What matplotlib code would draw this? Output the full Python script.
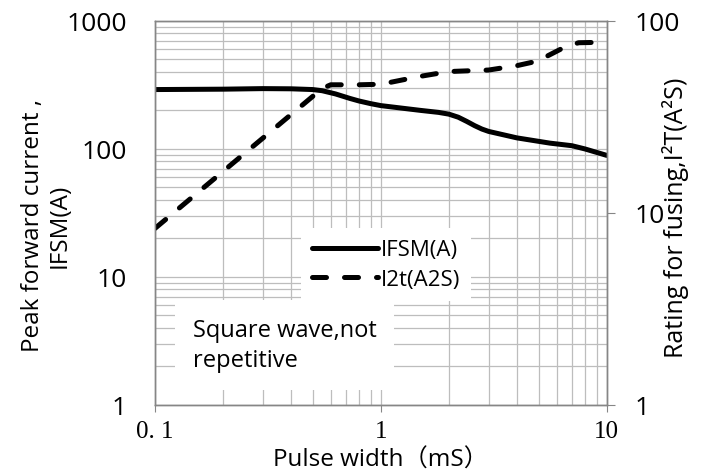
import matplotlib
matplotlib.use("Agg")
import matplotlib.pyplot as plt
from matplotlib.ticker import LogLocator, NullFormatter

# data
pulse_ifsm = [0.1, 0.2, 0.3, 0.4, 0.5, 0.55, 0.63, 0.73, 0.8, 0.9, 1.0, 1.5,
              1.8, 2.0, 2.2, 2.4, 2.6, 2.8, 3.0, 4.0, 5.6, 7.0, 8.0, 10.0]
ifsm = [291, 293, 296, 295, 291, 285, 269, 248, 237, 226, 218, 200,
        193, 187, 177, 164, 152, 143, 137, 122, 111, 106, 100, 89]

pulse_i2t = [0.1, 0.55, 0.6, 0.8, 1.0, 1.5, 2.0, 3.0, 4.0, 5.0, 5.5, 6.5, 7.5, 10.0]
i2t = [8.3, 44.5, 46.5, 46.5, 46.8, 51.5, 54.5, 55.5, 58.5, 62, 66, 73, 77, 77.5]

xticks = [0.1, 1, 10]
xticklabels = ["0. 1", "1", "10"]
left_ticks = [1, 10, 100, 1000]
right_ticks = [1, 10, 100]

sans = ["Open Sans", "Noto Sans CJK SC", "DejaVu Sans"]
serif = ["Liberation Serif", "DejaVu Serif"]
grey = "#868686"
gridc = "#bdbdbd"

fig = plt.figure(figsize=(7.04, 4.77), dpi=100)
ax = fig.add_axes([0.220, 0.149, 0.642, 0.805])
ax2 = ax.twinx()

ax.set_xscale("log")
ax.set_yscale("log")
ax2.set_yscale("log")
ax.set_xlim(0.1, 10)
ax.set_ylim(1, 1000)
ax2.set_ylim(1, 100)

ax.xaxis.set_minor_locator(LogLocator(base=10, subs=range(2, 10)))
ax.yaxis.set_minor_locator(LogLocator(base=10, subs=range(2, 10)))
ax.xaxis.set_minor_formatter(NullFormatter())
ax.yaxis.set_minor_formatter(NullFormatter())
ax2.yaxis.set_minor_locator(plt.NullLocator())
ax2.yaxis.set_minor_formatter(NullFormatter())

ax.grid(True, which="both", color=gridc, lw=0.9)
ax.set_axisbelow(True)

for a in (ax, ax2):
    for s in a.spines.values():
        s.set_color(grey)
        s.set_linewidth(1.0)

ax.set_xticks(xticks)
ax.set_xticklabels(xticklabels, fontfamily=serif, fontsize=18)
ax.tick_params(axis="x", which="major", direction="out", length=5, color=grey, pad=6)
ax.tick_params(axis="x", which="minor", length=0)

ax.set_yticks(left_ticks)
ax.set_yticklabels([str(v) for v in left_ticks], fontfamily=sans, fontsize=19)
ax.tick_params(axis="y", which="both", length=0, pad=20)

ax2.set_yticks(right_ticks)
ax2.set_yticklabels([str(v) for v in right_ticks], fontfamily=sans, fontsize=19)
ax2.tick_params(axis="y", which="major", direction="out", length=6, color=grey, pad=14)

l1, = ax.plot(pulse_ifsm, ifsm, color="black", lw=3.6, solid_capstyle="round",
              label="IFSM(A)")
l2, = ax2.plot(pulse_i2t, i2t, color="black", lw=3.6, dashes=(2.8, 3.6),
               dash_capstyle="round", label="I2t(A2S)")

ax.set_ylabel("Peak forward current ,\nIFSM(A)", fontfamily=sans, fontsize=17.5,
              linespacing=1.15)
ax.yaxis.set_label_coords(-0.184, 0.469)
ax2.set_ylabel("Rating for fusing,I²T(A²S)", fontfamily=sans, fontsize=18,
               rotation=90)
ax2.yaxis.set_label_coords(1.122, 0.49)
ax.set_xlabel("Pulse width（mS）", fontfamily=sans, fontsize=17.5)
ax.xaxis.set_label_coords(0.5, -0.112)

leg = ax2.legend(handles=[l1, l2], loc="center", bbox_to_anchor=(0.511, 0.365),
                 frameon=True, fancybox=False, handlelength=3.0, handletextpad=0.1,
                 labelspacing=0.4, borderpad=0.5,
                 prop={"family": sans, "size": 16})
leg.get_frame().set_facecolor("white")
leg.get_frame().set_edgecolor("none")
leg.get_frame().set_alpha(1)

ax2.text(0.084, 0.156, "Square wave,not\nrepetitive", transform=ax2.transAxes,
         ha="left", va="center", fontfamily=sans, fontsize=17, linespacing=1.35,
         bbox=dict(boxstyle="square,pad=0.75", facecolor="white", edgecolor="none"))

fig.savefig("out.png", dpi=100)
